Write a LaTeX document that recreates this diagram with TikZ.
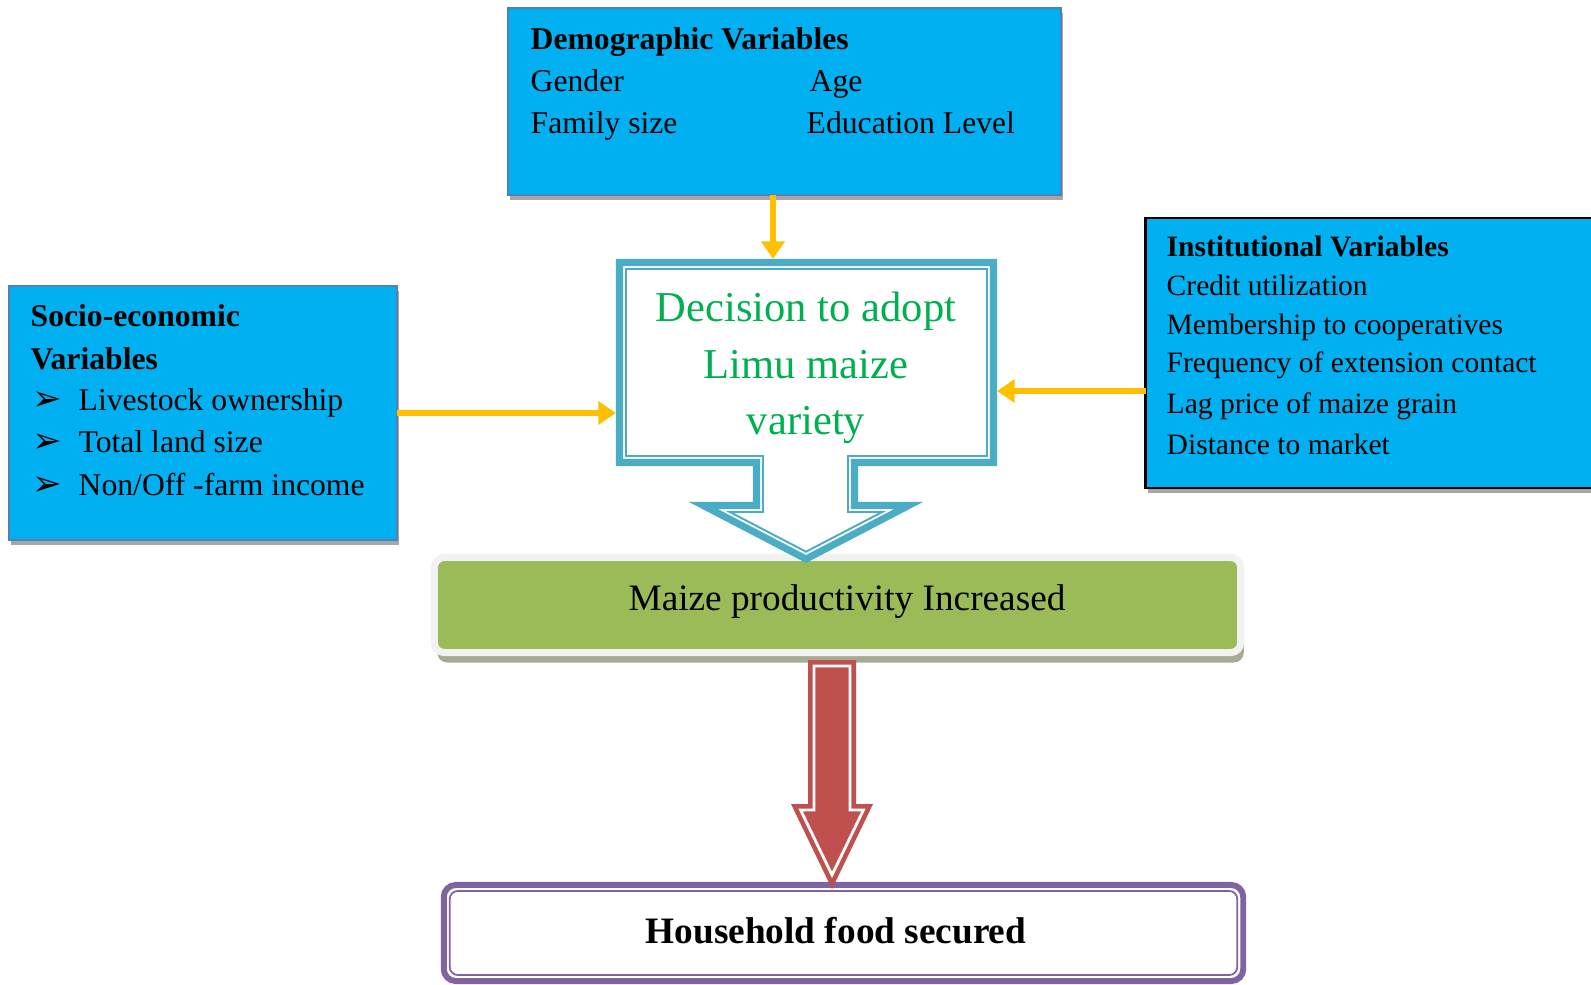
\documentclass[tikz,border=0pt]{standalone}
\usepackage{fontspec}
\setmainfont{Liberation Serif}
\newfontfamily\dingfont{DejaVu Sans}
\usetikzlibrary{arrows.meta, calc, shadows}
\definecolor{boxcyan}{RGB}{0,176,240}
\definecolor{boxline}{RGB}{79,129,189}
\definecolor{arrowyellow}{RGB}{255,192,0}
\definecolor{calloutteal}{RGB}{75,172,198}
\definecolor{adoptgreen}{RGB}{0,176,80}
\definecolor{maizegreen}{RGB}{155,187,89}
\definecolor{rimgray}{RGB}{242,242,242}
\definecolor{maizeshadow}{RGB}{166,172,146}
\definecolor{blockred}{RGB}{192,80,77}
\definecolor{foodpurple}{RGB}{128,100,162}

\begin{document}
\begin{tikzpicture}[
    x=0.01cm, y=-0.01cm,
    varbox/.style={draw=boxline, line width=0.6pt, fill=boxcyan, inner sep=0pt, outer sep=0pt,
        drop shadow={shadow xshift=0.02cm, shadow yshift=-0.05cm, fill=black!35, opacity=1}},
    vartext/.style={anchor=base west, inner sep=0pt, font=\fontsize{9}{11}\selectfont},
    vartitle/.style={vartext, font=\fontsize{9}{11}\selectfont\bfseries},
    insttext/.style={vartext, font=\fontsize{8.4}{10}\selectfont},
    bullet/.style={vartext, font=\dingfont\fontsize{10}{11}\selectfont},
    adopttext/.style={anchor=base, inner sep=0pt, text=adoptgreen, font=\fontsize{12.1}{14}\selectfont},
    feed/.style={-{Triangle[length=5pt, width=6.5pt]}, draw=arrowyellow, line width=1.7pt}
]
\clip (0,0) rectangle (1591,985);

% Containers
\node[varbox, minimum width=5.53cm, minimum height=1.87cm] (demo) at (784.5,101.5) {};
\node[varbox, minimum width=3.88cm, minimum height=2.54cm] (socio) at (203,413) {};
\node[varbox, draw=black, line width=0.8pt, minimum width=4.54cm, minimum height=2.70cm] (inst) at (1373,353) {};
\node[inner sep=0pt, outer sep=0pt, minimum width=3.81cm, minimum height=2.07cm] (decision) at (806.5,362.5) {};
\node[fill=maizegreen, draw=rimgray, line width=2pt, rounded corners=0.1cm, inner sep=0pt, outer sep=0pt,
    minimum width=8.06cm, minimum height=0.95cm,
    drop shadow={shadow xshift=0.03cm, shadow yshift=-0.1cm, fill=maizeshadow, opacity=1}] (maize) at (837.5,605) {};
\node[draw=foodpurple, line width=1.7pt, rounded corners=0.12cm, inner sep=0pt, outer sep=0pt,
    minimum width=7.99cm, minimum height=0.96cm] (house) at (843.5,933) {};
\draw[foodpurple, line width=0.5pt, rounded corners=0.08cm] ($(house.north west)+(6,6)$) rectangle ($(house.south east)+(-6,-6)$);

% Decision callout
\draw[calloutteal, line width=2pt, line join=miter, fill=white]
    (619.5,262.5) -- (993.5,262.5) -- (993.5,462.5) -- (854.5,462.5) -- (854.5,505.5) -- (908.7,505.5)
    -- (806,559) -- (703.3,505.5) -- (756.5,505.5) -- (756.5,462.5) -- (619.5,462.5) -- cycle;
\draw[calloutteal, line width=0.55pt, line join=miter]
    (626,269) -- (987,269) -- (987,456) -- (848,456) -- (848,512) -- (882.2,512)
    -- (806,551.7) -- (729.8,512) -- (763,512) -- (763,456) -- (626,456) -- cycle;

% Block arrow to food security
\fill[blockred] (808,660) -- (856,660) -- (856,804) -- (873,804) -- (832,889) -- (791,804) -- (808,804) -- cycle;
\draw[white, line width=0.8pt, line join=miter] (814,666) -- (850,666) -- (850,810) -- (863.4,810) -- (832,875) -- (800.6,810) -- (814,810) -- cycle;

% Arrows
\coordinate (instport) at ([yshift=-0.38cm]inst.west);
\draw[feed] ([xshift=-0.115cm]demo.south) -- ([xshift=-0.335cm]decision.north);
\draw[feed] (socio.east) -- (socio.east -| decision.west);
\draw[feed] (instport) -- (instport -| decision.east);

% Labels
\node[vartitle] (demotitle) at (530,50) {Demographic Variables};
\node[vartext] (gender) at (530,92) {Gender};
\node[vartext] (age) at (809,92) {Age};
\node[vartext] (famsize) at (530,134) {Family size};
\node[vartext] (edu) at (806,134) {Education Level};

\node[vartitle] (sociotitle) at (30,327) {Socio-economic};
\node[vartitle] (sociotitleb) at (30,369) {Variables};
\foreach \y/\t/\n in {410/Livestock ownership/a, 452/Total land size/b, 495/{Non/Off -farm income}/c} {
    \node[bullet] (mark\n) at (32,\y) {➢};
    \node[vartext] (socio\n) at (78,\y) {\t};
}

\node[vartitle, font=\fontsize{8.4}{10}\selectfont\bfseries] (insttitle) at (1166,257) {Institutional Variables};
\node[insttext] (credit) at (1166,295) {Credit utilization};
\node[insttext] (member) at (1166,334) {Membership to cooperatives};
\node[insttext] (extension) at (1166,372) {Frequency of extension contact};
\node[insttext] (lagprice) at (1166,413) {Lag price of maize grain};
\node[insttext] (distance) at (1166,454) {Distance to market};

\node[adopttext] (adopta) at (806,321) {Decision to adopt};
\node[adopttext] (adoptb) at (806,378) {Limu maize};
\node[adopttext] (adoptc) at (806,434) {variety};

\node[anchor=base, inner sep=0pt, font=\fontsize{10.6}{12}\selectfont] (maizetext) at (847,610) {Maize productivity Increased};
\node[anchor=base, inner sep=0pt, font=\fontsize{10.6}{12}\selectfont\bfseries] (housetext) at (836,943) {Household food secured};

\end{tikzpicture}
\end{document}
